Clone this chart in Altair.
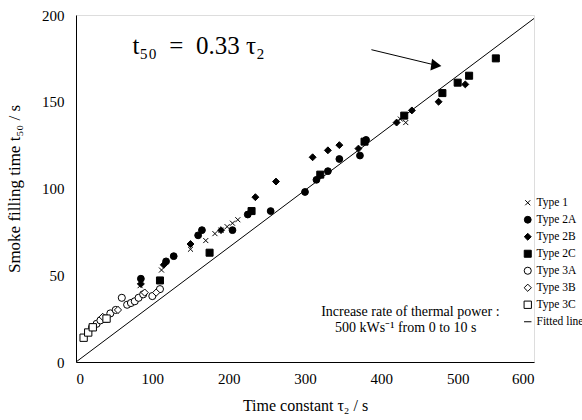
import altair as alt
import pandas as pd

categories = ["Type 1", "Type 2A", "Type 2B", "Type 2C", "Type 3A", "Type 3B", "Type 3C", "Fitted line"]

t1_x = [84, 112, 150, 170, 182, 190, 198, 205, 212, 425, 432]
t1_y = [44, 53, 65, 70, 74, 76, 78, 80, 82, 140, 138]

t2a_x = [85, 118, 128, 160, 165, 205, 225, 255, 300, 315, 330, 345, 372, 380]
t2a_y = [48, 58, 61, 73, 76, 76, 85, 87, 98, 105, 110, 117, 119, 128]

t2b_x = [85, 115, 150, 190, 235, 262, 310, 330, 345, 370, 420, 440, 475, 510]
t2b_y = [45, 56, 68, 76, 95, 104, 118, 122, 125, 123, 138, 145, 150, 160]

t2c_x = [38, 110, 175, 230, 320, 378, 430, 480, 500, 515, 550]
t2c_y = [25, 47, 63, 87, 108, 127, 142, 155, 161, 165, 175]

t3a_x = [21, 27, 32, 45, 52, 60, 67, 72, 77, 82, 88, 100, 110]
t3a_y = [20, 22, 24, 28, 30, 37, 33, 34, 35, 37, 39, 38, 42]

t3b_x = [35, 55, 90, 105]
t3b_y = [26, 30, 40, 40]

t3c_x = [10, 16, 22, 40]
t3c_y = [14, 17, 20, 25]

fit_slope = 0.33
fit_x = [0, 600]

rows = []
for name, xs_, ys_ in [("Type 1", t1_x, t1_y), ("Type 2A", t2a_x, t2a_y), ("Type 2B", t2b_x, t2b_y),
                       ("Type 2C", t2c_x, t2c_y), ("Type 3A", t3a_x, t3a_y), ("Type 3B", t3b_x, t3b_y),
                       ("Type 3C", t3c_x, t3c_y)]:
    for a, b in zip(xs_, ys_):
        rows.append({"type": name, "x": a, "y": b})
pts = pd.DataFrame(rows)

fit = pd.DataFrame({"x": fit_x, "y": [fit_slope * v for v in fit_x]})

FONT = "Liberation Serif"
xpath = "M-0.75,-0.75L0.75,0.75M-0.75,0.75L0.75,-0.75"

xs = alt.X("x:Q", scale=alt.Scale(domain=[0, 600], nice=False),
           axis=alt.Axis(values=[0, 100, 200, 300, 400, 500, 600], title="Time constant τ₂ / s",
                         grid=False, ticks=False, labelPadding=9, titlePadding=11,
                         labelFont=FONT, titleFont=FONT, labelFontSize=15, titleFontSize=16,
                         titleFontWeight="normal", labelColor="black", titleColor="black",
                         domainColor="black"))
ys = alt.Y("y:Q", scale=alt.Scale(domain=[0, 200], nice=False),
           axis=alt.Axis(values=[0, 50, 100, 150, 200], title="Smoke filling time t₅₀ / s",
                         grid=False, ticks=False, labelPadding=12, titlePadding=18,
                         labelFont=FONT, titleFont=FONT, labelFontSize=15, titleFontSize=17,
                         titleFontWeight="normal", labelColor="black", titleColor="black",
                         domainColor="black"))

legend = alt.Legend(title=None, orient="none", legendX=446, legendY=182, labelFont=FONT,
                    labelFontSize=11.5, labelColor="black", rowPadding=4, symbolStrokeColor="black",
                    symbolStrokeWidth=1, labelOffset=3)

points = alt.Chart(pts).mark_point(strokeWidth=1, opacity=1).encode(
    x=xs, y=ys,
    shape=alt.Shape("type:N", scale=alt.Scale(domain=categories,
                    range=[xpath, "circle", "diamond", "square", "circle", "diamond", "square", "stroke"]),
                    legend=legend),
    fill=alt.Fill("type:N", scale=alt.Scale(domain=categories,
                  range=["transparent", "black", "black", "black", "white", "white", "white", "transparent"]),
                  legend=legend),
    stroke=alt.Stroke("type:N", scale=alt.Scale(domain=categories,
                      range=["black"] * 8), legend=legend),
    size=alt.Size("type:N", scale=alt.Scale(domain=categories,
                  range=[45, 55, 28, 45, 65, 25, 50, 100]), legend=legend),
)

line = alt.Chart(fit).mark_line(color="black", strokeWidth=1).encode(x="x:Q", y="y:Q")

ann_x = [74]
ann_y = [182]
ann = alt.Chart(pd.DataFrame({"x": ann_x, "y": ann_y, "t": ["t₅₀\u2002=\u20020.33 τ₂"]})).mark_text(
    align="left", baseline="middle", font=FONT, fontSize=25, color="black").encode(x="x:Q", y="y:Q", text="t:N")

arrow_x = [387, 472]
arrow_y = [180, 171]
arrow = alt.Chart(pd.DataFrame({"x": arrow_x, "y": arrow_y})).mark_line(color="black", strokeWidth=1).encode(
    x="x:Q", y="y:Q")
head = alt.Chart(pd.DataFrame({"x": [arrow_x[1]], "y": [arrow_y[1]]})).mark_point(
    shape="triangle-right", filled=True, color="black", size=140, angle=8, opacity=1).encode(x="x:Q", y="y:Q")

note_x = [438, 432]
note_y = [29, 19.5]
note_t = ["Increase rate of thermal power :", "500 kWs⁻¹ from 0 to 10 s"]
note = alt.Chart(pd.DataFrame({"x": note_x, "y": note_y, "t": note_t})).mark_text(
    align="center", baseline="middle", font=FONT, fontSize=14, color="black").encode(x="x:Q", y="y:Q", text="t:N")

chart = alt.layer(line, points, ann, arrow, head, note).properties(
    width=458, height=347,
    autosize=alt.AutoSizeParams(type="none"),
    padding={"left": 76, "top": 15, "right": 48, "bottom": 58},
).configure_view(stroke="black", strokeWidth=1).configure(background="white")

chart.save("out.html", embed_options={"renderer": "svg", "actions": False})
